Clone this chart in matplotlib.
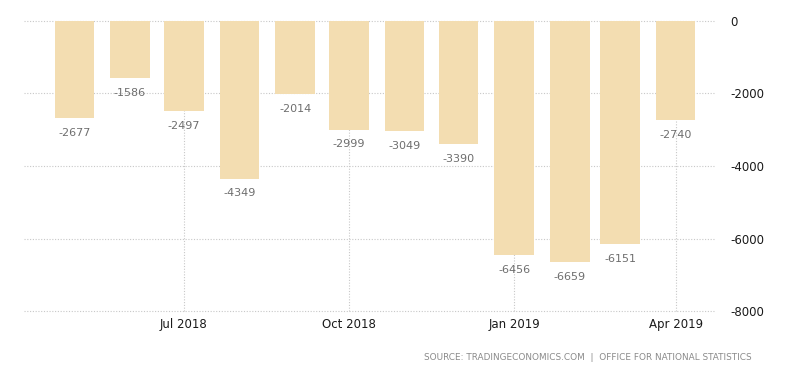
import datetime as dt
import matplotlib
matplotlib.use("Agg")
import matplotlib.pyplot as plt
import matplotlib.dates as mdates

# monthly values, May 2018 - Apr 2019
months = [dt.date(2018, m, 1) for m in range(5, 13)] + [dt.date(2019, m, 1) for m in range(1, 5)]
values = [-2677, -1586, -2497, -4349, -2014, -2999, -3049, -3390, -6456, -6659, -6151, -2740]
xticks = [dt.date(2018, 7, 1), dt.date(2018, 10, 1), dt.date(2019, 1, 1), dt.date(2019, 4, 1)]
xtick_labels = ["Jul 2018", "Oct 2018", "Jan 2019", "Apr 2019"]
yticks = [0, -2000, -4000, -6000, -8000]

bar_color = "#f3ddb1"
grid_color = "#c8c8c8"

fig = plt.figure(figsize=(8, 3.73), dpi=100)
ax = fig.add_axes([0.03, 0.166, 0.864, 0.778])

x = mdates.date2num(months)
ax.bar(x, values, width=22, color=bar_color, zorder=2)

for xi, v in zip(x, values):
    ax.annotate(str(v), (xi, v), xytext=(0, -7), textcoords="offset points",
                ha="center", va="top", fontsize=8, color="#6e6e6e")

ax.set_xlim(mdates.date2num(dt.date(2018, 4, 3)), mdates.date2num(dt.date(2019, 4, 23)))
ax.set_ylim(-8000, 0)
ax.set_xticks(mdates.date2num(xticks))
ax.set_xticklabels(xtick_labels)
ax.set_yticks(yticks)
ax.set_yticklabels([str(t) for t in yticks])

ax.yaxis.tick_right()
ax.tick_params(axis="both", length=0, labelsize=8.5, colors="#1a1a1a")
ax.tick_params(axis="y", pad=11)
ax.tick_params(axis="x", pad=5)
for lab in ax.get_yticklabels():
    lab.set_ha("left")

for s in ax.spines.values():
    s.set_visible(False)
ax.grid(True, linestyle=(0, (1, 1.5)), color=grid_color, linewidth=0.8, zorder=0)
ax.set_axisbelow(True)
for gl in ax.get_ygridlines() + ax.get_xgridlines():
    gl.set_clip_on(False)

fig.text(0.94, 0.042, "SOURCE: TRADINGECONOMICS.COM  |  OFFICE FOR NATIONAL STATISTICS",
         ha="right", va="center", fontsize=6.4, color="#8a8a8a")

fig.savefig("out.png", dpi=100, facecolor="white")
